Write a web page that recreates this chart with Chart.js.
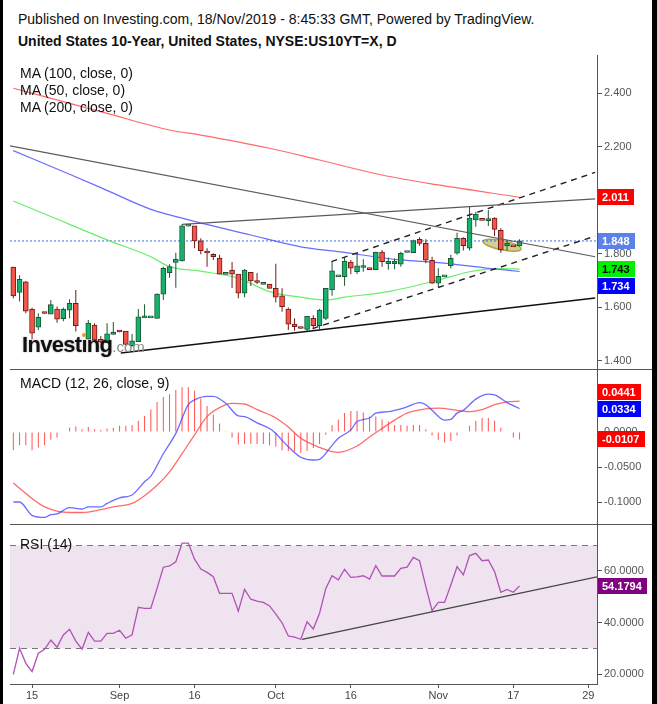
<!DOCTYPE html>
<html>
<head>
<meta charset="utf-8">
<title>United States 10-Year</title>
<script src="https://cdn.jsdelivr.net/npm/chart.js@4.4.1/dist/chart.umd.min.js"></script>
<style>
  html, body { margin: 0; padding: 0; background: #fff; }
  #page { position: relative; width: 657px; height: 704px; background: #fff; overflow: hidden;
    font-family: "Liberation Sans", Arial, sans-serif; color: #111; }
  .edge { position: absolute; top: 0; height: 704px; background: #000; }
  .txt { position: absolute; white-space: nowrap; font-size: 14px; line-height: 16px; }
  canvas { position: absolute; left: 10px; }
  .sep { position: absolute; left: 10px; width: 642px; height: 1px; background: #555; }
  #mark { position: absolute; left: 22px; top: 334px; white-space: nowrap; line-height: 22px; }
  #mark .big { font-size: 22px; font-weight: bold; letter-spacing: -0.7px; color: #111;
    text-shadow: 0 0 2px rgba(0,0,0,0.35); }
  #mark .small { font-size: 15px; color: #8a8a8a; }
  #mark .i { position: relative; }
  #mark .dot { position: absolute; left: 1px; top: 1px; width: 4px; height: 4px; border-radius: 2px; background: #f7941d; }
</style>
</head>
<body>
<div id="page">
  <div class="txt" style="left:18px;top:11px">Published on Investing.com, 18/Nov/2019 - 8:45:33 GMT, Powered by TradingView.</div>
  <div class="txt" style="left:18px;top:33px;font-weight:bold">United States 10-Year, United States, NYSE:US10YT=X, D</div>

  <canvas id="main" width="647" height="314" style="top:55px"></canvas>
  <canvas id="macd" width="647" height="155" style="top:369px"></canvas>
  <canvas id="rsi" width="647" height="180" style="top:524px"></canvas>
  <div class="sep" style="top:369px"></div>
  <div class="sep" style="top:524px"></div>

  <div class="txt" style="left:20px;top:65px">MA (100, close, 0)</div>
  <div class="txt" style="left:20px;top:82px">MA (50, close, 0)</div>
  <div class="txt" style="left:20px;top:99px">MA (200, close, 0)</div>
  <div class="txt" style="left:20px;top:375px">MACD (12, 26, close, 9)</div>
  <div class="txt" style="left:20px;top:536px">RSI (14)</div>

  <div id="mark"><span class="big">Invest<span class="i">ı<b class="dot"></b></span>ng</span><span class="small">.com</span></div>

  <div class="edge" style="left:0;width:3px"></div>
  <div class="edge" style="right:0;width:5px"></div>
</div>

<script>
// daily bars, Sunday sessions included; index 0 = 12 Aug 2019, index 81 = 18 Nov 2019
const OPEN = [1.750, 1.656, 1.695, 1.594, 1.526, 1.579, 1.575, 1.594, 1.558, 1.590,
  1.615, null, 1.481, 1.534, 1.481, 1.468, 1.499, 1.510, 1.512, 1.457,
  1.472, 1.561, 1.561, 1.559, 1.649, 1.730, 1.768, 1.773, 1.903, 1.904,
  1.848, 1.805, 1.798, 1.784, 1.723, 1.739, 1.724, 1.653, 1.731, 1.695,
  1.686, 1.687, 1.671, 1.643, 1.594, 1.538, 1.523, 1.518, 1.559, 1.532,
  1.559, 1.665, 1.714, 1.715, 1.769, 1.733, 1.749, 1.743, 1.741, 1.806,
  1.763, 1.763, 1.761, 1.805, 1.804, 1.854, 1.839, 1.776, 1.690, 1.714,
  1.756, 1.802, 1.858, 1.821, 1.926, 1.927, 1.924, 1.933, 1.888, 1.830,
  1.828, 1.829];
const HIGH = [1.752, 1.720, 1.698, 1.599, 1.578, 1.580, 1.628, 1.603, 1.600, 1.630,
  1.665, null, 1.553, 1.541, 1.493, 1.541, 1.545, 1.511, 1.512, 1.501,
  1.594, 1.612, 1.563, 1.653, 1.752, 1.761, 1.804, 1.910, 1.905, 1.904,
  1.858, 1.821, 1.802, 1.796, 1.725, 1.769, 1.724, 1.743, 1.731, 1.728,
  1.688, 1.687, 1.763, 1.671, 1.600, 1.559, 1.523, 1.567, 1.571, 1.595,
  1.671, 1.771, 1.716, 1.786, 1.777, 1.802, 1.780, 1.743, 1.808, 1.814,
  1.786, 1.782, 1.808, 1.807, 1.852, 1.862, 1.854, 1.789, 1.746, 1.716,
  1.796, 1.879, 1.862, 1.976, 1.957, 1.927, 1.963, 1.936, 1.895, 1.852,
  1.828, 1.854];
const LOW = [1.634, 1.622, 1.578, 1.481, 1.516, 1.575, 1.575, 1.543, 1.548, 1.559,
  1.510, null, 1.481, 1.476, 1.466, 1.466, 1.499, 1.507, 1.460, 1.453,
  1.472, 1.561, 1.561, 1.559, 1.628, 1.711, 1.673, 1.771, 1.902, 1.821,
  1.798, 1.752, 1.777, 1.724, 1.723, 1.672, 1.634, 1.638, 1.680, 1.687,
  1.686, 1.671, 1.618, 1.584, 1.516, 1.513, 1.521, 1.510, 1.518, 1.518,
  1.553, 1.643, 1.714, 1.681, 1.724, 1.725, 1.733, 1.741, 1.741, 1.752,
  1.740, 1.742, 1.752, 1.805, 1.804, 1.830, 1.765, 1.687, 1.674, 1.714,
  1.746, 1.796, 1.812, 1.812, 1.901, 1.925, 1.904, 1.866, 1.804, 1.812,
  1.826, 1.827];
const CLOSE = [1.643, 1.705, 1.586, 1.504, 1.563, 1.577, 1.610, 1.556, 1.593, 1.615,
  1.532, null, 1.541, 1.478, 1.470, 1.501, 1.501, 1.508, 1.462, 1.475,
  1.565, 1.562, 1.562, 1.650, 1.746, 1.752, 1.780, 1.904, 1.904, 1.848,
  1.812, 1.803, 1.789, 1.724, 1.724, 1.724, 1.653, 1.739, 1.699, 1.693,
  1.687, 1.671, 1.638, 1.603, 1.537, 1.528, 1.521, 1.567, 1.532, 1.590,
  1.671, 1.736, 1.715, 1.773, 1.746, 1.755, 1.756, 1.741, 1.806, 1.771,
  1.772, 1.772, 1.802, 1.806, 1.849, 1.839, 1.776, 1.690, 1.716, 1.715,
  1.783, 1.858, 1.830, 1.933, 1.947, 1.925, 1.927, 1.891, 1.814, 1.839,
  1.826, 1.848];

// moving averages, read at a few bars each
const MA200_IDX = [0, 15, 25, 30, 41, 49, 59, 68, 81];
const MA200_VAL = [2.418, 2.324, 2.262, 2.243, 2.194, 2.150, 2.094, 2.057, 2.011];
const MA100_IDX = [0, 9, 14, 22, 25, 38, 46, 52, 62, 68, 76, 81];
const MA100_VAL = [2.185, 2.097, 2.047, 1.966, 1.945, 1.870, 1.826, 1.808, 1.777, 1.767, 1.746, 1.734];
const MA50_IDX = [0, 6, 15, 22, 25, 30, 36, 41, 46, 50, 53, 60, 68, 73, 78, 81];
const MA50_VAL = [1.997, 1.939, 1.852, 1.789, 1.752, 1.735, 1.709, 1.659, 1.638, 1.628, 1.638, 1.659, 1.702, 1.733, 1.745, 1.743];

// hand-drawn lines: [bar index, yield]
const LINE_DOWN = [[-0.53, 2.203], [93.1, 1.789]];
const LINE_TOP = [[27, 1.910], [93.1, 2.005]];
const LINE_SUPPORT = [[17.2, 1.430], [93.1, 1.635]];
const CHANNEL_LOW = [[47.9, 1.521], [93.1, 1.866]];
const CHANNEL_HIGH = [[50.9, 1.771], [93.1, 2.104]];
const ELLIPSE_CENTER = [78.2, 1.832];
const ELLIPSE_HALF = [3.1, 0.0175];

const MACD_HIST = [-0.026, -0.019, -0.019, -0.026, -0.022, -0.019, -0.011, -0.008, 0, 0.006,
  0.008, 0.004, 0.007, 0.004, 0.003, 0.005, 0.006, 0.009, 0.009, 0.010,
  0.016, 0.023, 0.032, 0.043, 0.050, 0.054, 0.060, 0.064, 0.064, 0.059,
  0.048, 0.037, 0.025, 0.012, 0.001, -0.008, -0.018, -0.017, -0.017, -0.017,
  -0.017, -0.019, -0.021, -0.026, -0.027, -0.028, -0.030, -0.027, -0.023, -0.017,
  -0.004, 0.010, 0.018, 0.027, 0.030, 0.030, 0.028, 0.022, 0.022, 0.018,
  0.015, 0.010, 0.010, 0.009, 0.010, 0.010, 0.004, -0.005, -0.011, -0.015,
  -0.013, -0.005, 0, 0.009, 0.016, 0.020, 0.020, 0.016, 0.006, 0,
  -0.008, -0.0107];
const MACD_IDX = [0, 1, 3, 5, 6, 7, 9, 11, 12, 14, 15, 17, 19, 21, 22, 24, 26, 28, 29, 31,
  32, 34, 36, 37, 39, 41, 42, 43, 44, 46, 48, 49, 51, 52, 54, 55, 57, 58, 60, 62,
  63, 65, 66, 67, 69, 70, 71, 72, 74, 76, 77, 79, 81];
const MACD_VAL = [-0.100, -0.100, -0.119, -0.122, -0.118, -0.117, -0.108, -0.110, -0.107, -0.107,
  -0.102, -0.094, -0.090, -0.071, -0.063, -0.031, -0.002, 0.039, 0.046, 0.051,
  0.051, 0.041, 0.023, 0.022, 0.013, 0.005, -0.002, -0.012, -0.021, -0.036,
  -0.040, -0.039, -0.019, -0.009, 0.003, 0.015, 0.020, 0.027, 0.029, 0.033,
  0.036, 0.042, 0.039, 0.031, 0.017, 0.018, 0.027, 0.031, 0.047, 0.054,
  0.053, 0.042, 0.0334];
const SIGNAL_IDX = [0, 3, 5, 9, 11, 14, 16, 19, 21, 23, 25, 27, 29, 31, 34, 35, 37, 39, 42, 44,
  46, 49, 51, 52, 55, 57, 59, 61, 63, 66, 68, 71, 73, 75, 77, 79, 81];
const SIGNAL_VAL = [-0.073, -0.095, -0.107, -0.115, -0.115, -0.111, -0.107, -0.102, -0.091, -0.076,
  -0.057, -0.031, -0.004, 0.022, 0.039, 0.041, 0.040, 0.032, 0.020, 0.007,
  -0.009, -0.022, -0.028, -0.029, -0.020, -0.007, 0.005, 0.017, 0.027, 0.033,
  0.034, 0.031, 0.029, 0.032, 0.039, 0.043, 0.0441];

const RSI = [19.9, 30.0, 24.2, 21.0, 28.1, 29.6, 33.2, 30.4, 35.2, 37.4,
  32.8, 29.7, 36.2, 32.8, 32.8, 35.8, 35.8, 37.0, 33.9, 35.2,
  45.9, 45.5, 45.5, 53.2, 61.4, 61.9, 63.5, 70.7, 70.7, 64.5,
  60.7, 59.4, 57.7, 51.3, 51.3, 51.3, 44.4, 52.8, 49.0, 48.3,
  47.8, 46.4, 43.2, 39.9, 34.8, 34.3, 33.5, 40.3, 37.5, 43.6,
  53.2, 58.1, 56.5, 60.6, 57.5, 57.7, 58.1, 56.8, 62.0, 58.0,
  58.0, 58.0, 61.0, 61.4, 65.2, 63.9, 54.0, 44.6, 47.8, 47.8,
  54.5, 61.6, 58.4, 65.9, 66.8, 63.9, 64.2, 59.7, 51.7, 52.8,
  51.7, 54.1794];
const RSI_LINE = [[46.2, 33.5], [93.4, 57.7]];
const RSI_BANDS = [70, 30];

const X_TICK_IDX = [3, 17, 29, 42, 54, 68, 80, 92];
const X_TICK_TEXT = ["15", "Sep", "16", "Oct", "16", "Nov", "17", "29"];
const PRICE_TICKS = [1.4, 1.6, 1.8, 2.2, 2.4];
const MACD_TICKS = [-0.1, -0.05, 0];
const RSI_TICKS = [20, 40, 60];

const X_RANGE = [-0.53, 93.39];
const PRICE_RANGE = [1.370, 2.542];
const MACD_RANGE = [-0.1314, 0.09];
const RSI_RANGE = [16.19, 78.13];

const AXIS_W = 60;
const LABEL_GAP = 17;
const GREEN = "#14b36b";
const RED = "#f2564b";
const GREEN_EDGE = "#1c5534";
const RED_EDGE = "#6f1a16";

Chart.defaults.font.family = "'Liberation Sans', Arial, sans-serif";
Chart.defaults.elements.point.radius = 0;

const pts = (xs, ys) => xs.map((x, k) => ({ x, y: ys[k] }));
const seg = (pair) => pair.map(([x, y]) => ({ x, y }));
const last = (arr) => arr[arr.length - 1];

const sideLabels = {
  id: "sideLabels",
  afterDraw(chart, args, opts) {
    const items = opts.items || [];
    const scale = chart.scales.y;
    const ctx = chart.ctx;
    const placed = [];
    ctx.save();
    ctx.font = "bold 11px 'Liberation Sans', Arial, sans-serif";
    ctx.textBaseline = "middle";
    for (const item of items) {
      let y = scale.getPixelForValue(item.value);
      for (const p of placed) {
        if (Math.abs(y - p) < LABEL_GAP) {
          y = y < p ? p - LABEL_GAP : p + LABEL_GAP;
        }
      }
      placed.push(y);
      const yy = Math.round(y);
      const x = chart.chartArea.right + 1;
      const w = Math.ceil(ctx.measureText(item.text).width) + 9;
      ctx.fillStyle = item.bg;
      ctx.fillRect(x, yy - 8, w, 16);
      ctx.fillStyle = item.fg;
      ctx.fillText(item.text, x + 4, yy + 1);
    }
    ctx.restore();
  },
};

const ellipseMark = {
  id: "ellipseMark",
  beforeDatasetsDraw(chart) {
    const { ctx, scales: { x, y } } = chart;
    const cx = x.getPixelForValue(ELLIPSE_CENTER[0]);
    const cy = y.getPixelForValue(ELLIPSE_CENTER[1]);
    const rx = x.getPixelForValue(ELLIPSE_CENTER[0] + ELLIPSE_HALF[0]) - cx;
    const ry = cy - y.getPixelForValue(ELLIPSE_CENTER[1] + ELLIPSE_HALF[1]);
    ctx.save();
    ctx.beginPath();
    ctx.ellipse(cx, cy, rx, ry, 0.2, 0, Math.PI * 2);
    ctx.fillStyle = "rgba(180, 175, 80, 0.6)";
    ctx.strokeStyle = "rgba(160, 155, 50, 0.85)";
    ctx.lineWidth = 1.5;
    ctx.fill();
    ctx.stroke();
    ctx.restore();
  },
};

const rsiBand = {
  id: "rsiBand",
  beforeDatasetsDraw(chart) {
    const { ctx, chartArea: a, scales: { y } } = chart;
    const top = Math.round(y.getPixelForValue(RSI_BANDS[0])) + 0.5;
    const bot = Math.round(y.getPixelForValue(RSI_BANDS[1])) + 0.5;
    ctx.save();
    ctx.fillStyle = "rgba(135, 40, 135, 0.13)";
    ctx.fillRect(a.left, top, a.right - a.left, bot - top);
    ctx.strokeStyle = "#777";
    ctx.lineWidth = 1;
    ctx.setLineDash([6, 5]);
    for (const yy of [top, bot]) {
      ctx.beginPath();
      ctx.moveTo(a.left, yy);
      ctx.lineTo(a.right, yy);
      ctx.stroke();
    }
    ctx.restore();
  },
};

function xScale(show) {
  const scale = {
    type: "linear",
    min: X_RANGE[0],
    max: X_RANGE[1],
    offset: false,
    display: show,
    grid: { drawOnChartArea: false, tickLength: 4, color: "#555" },
    border: { color: "#555" },
  };
  if (show) {
    scale.afterBuildTicks = (s) => { s.ticks = X_TICK_IDX.map((v) => ({ value: v })); };
    scale.afterFit = (s) => { s.height = 20; s.paddingLeft = 0; s.paddingRight = 0; };
    scale.ticks = {
      autoSkip: false,
      maxRotation: 0,
      padding: 1,
      color: "#444",
      font: { size: 11 },
      callback: (v, i) => X_TICK_TEXT[i],
    };
  }
  return scale;
}

function yScale(range, ticks, digits) {
  return {
    position: "right",
    min: range[0],
    max: range[1],
    afterBuildTicks: (s) => { s.ticks = ticks.map((v) => ({ value: v })); },
    afterFit: (s) => { s.width = AXIS_W; s.paddingTop = 0; s.paddingBottom = 0; },
    ticks: {
      padding: 2,
      color: "#555",
      font: { size: 11 },
      callback: (v) => Number(v).toFixed(digits),
    },
    grid: { drawOnChartArea: false, tickLength: 5, color: "#555" },
    border: { color: "#555" },
  };
}

function baseOptions(range, ticks, digits, showX, labels) {
  return {
    responsive: false,
    animation: false,
    events: [],
    layout: { padding: 0 },
    plugins: {
      legend: { display: false },
      tooltip: { enabled: false },
      sideLabels: { items: labels },
    },
    scales: { x: xScale(showX), y: yScale(range, ticks, digits) },
  };
}

// ---- price panel ----
const bars = CLOSE.map((c, i) => i).filter((i) => CLOSE[i] != null);
const rising = (i) => CLOSE[i] >= OPEN[i];
const bodyData = bars.map((i) => ({ x: i, y: [OPEN[i], CLOSE[i]] }));
const wickData = bars.map((i) => ({ x: i, y: [LOW[i], HIGH[i]] }));
const bodyFill = bars.map((i) => (rising(i) ? GREEN : RED));
const bodyEdge = bars.map((i) => (rising(i) ? GREEN_EDGE : RED_EDGE));

function lineSet(data, color, width, extra) {
  return Object.assign({
    type: "line",
    data,
    borderColor: color,
    borderWidth: width,
    pointRadius: 0,
    fill: false,
    order: 0,
  }, extra || {});
}

new Chart(document.getElementById("main"), {
  type: "line",
  data: {
    datasets: [
      lineSet(seg(LINE_DOWN), "#5a5a5a", 1.2),
      lineSet(seg(LINE_TOP), "#5a5a5a", 1.2),
      lineSet(seg(LINE_SUPPORT), "#111", 1.5),
      lineSet(seg(CHANNEL_LOW), "#222", 1.4, { borderDash: [6, 5] }),
      lineSet(seg(CHANNEL_HIGH), "#222", 1.4, { borderDash: [6, 5] }),
      lineSet([{ x: X_RANGE[0], y: last(CLOSE) }, { x: X_RANGE[1], y: last(CLOSE) }], "#3a6de6", 1,
        { borderDash: [2, 2], order: 4 }),
      {
        type: "bar",
        data: bodyData,
        backgroundColor: bodyFill,
        borderColor: bodyEdge,
        borderWidth: 1,
        borderSkipped: false,
        barThickness: 5,
        minBarLength: 2,
        grouped: false,
        order: 1,
      },
      {
        type: "bar",
        data: wickData,
        backgroundColor: bodyEdge,
        borderWidth: 0,
        barThickness: 1,
        inflateAmount: 0,
        grouped: false,
        order: 2,
      },
      lineSet(pts(MA200_IDX, MA200_VAL), "rgba(255, 80, 80, 0.85)", 1.2, { cubicInterpolationMode: "monotone", order: 3 }),
      lineSet(pts(MA100_IDX, MA100_VAL), "rgba(80, 80, 255, 0.85)", 1.2, { cubicInterpolationMode: "monotone", order: 3 }),
      lineSet(pts(MA50_IDX, MA50_VAL), "rgba(90, 235, 90, 0.9)", 1.2, { cubicInterpolationMode: "monotone", order: 3 }),
    ],
  },
  options: baseOptions(PRICE_RANGE, PRICE_TICKS, 3, false, [
    { value: last(CLOSE), text: last(CLOSE).toFixed(3), bg: "#5b82e8", fg: "#fff" },
    { value: last(MA200_VAL), text: last(MA200_VAL).toFixed(3), bg: "#ff0000", fg: "#fff" },
    { value: last(MA50_VAL), text: last(MA50_VAL).toFixed(3), bg: "#00ee00", fg: "#000" },
    { value: last(MA100_VAL), text: last(MA100_VAL).toFixed(3), bg: "#0000ff", fg: "#fff" },
  ]),
  plugins: [sideLabels, ellipseMark],
});

// ---- MACD panel ----
new Chart(document.getElementById("macd"), {
  type: "line",
  data: {
    datasets: [
      lineSet(pts(MACD_IDX, MACD_VAL), "rgba(70, 70, 255, 0.8)", 1.3, { cubicInterpolationMode: "monotone", order: 0 }),
      lineSet(pts(SIGNAL_IDX, SIGNAL_VAL), "rgba(255, 70, 70, 0.8)", 1.3, { cubicInterpolationMode: "monotone", order: 1 }),
      {
        type: "bar",
        data: MACD_HIST.map((v, i) => ({ x: i, y: v })),
        backgroundColor: "rgba(255, 50, 50, 0.85)",
        borderWidth: 0,
        barThickness: 1,
        inflateAmount: 0,
        grouped: false,
        order: 2,
      },
    ],
  },
  options: baseOptions(MACD_RANGE, MACD_TICKS, 4, false, [
    { value: last(MACD_VAL), text: last(MACD_VAL).toFixed(4), bg: "#0000ff", fg: "#fff" },
    { value: last(SIGNAL_VAL), text: last(SIGNAL_VAL).toFixed(4), bg: "#ff0000", fg: "#fff" },
    { value: last(MACD_HIST), text: last(MACD_HIST).toFixed(4), bg: "#ff0000", fg: "#fff" },
  ]),
  plugins: [sideLabels],
});

// ---- RSI panel ----
new Chart(document.getElementById("rsi"), {
  type: "line",
  data: {
    datasets: [
      lineSet(seg(RSI_LINE), "#444", 1.3, { order: 0 }),
      lineSet(RSI.map((v, i) => ({ x: i, y: v })), "#b052b6", 1.3, { order: 1 }),
    ],
  },
  options: baseOptions(RSI_RANGE, RSI_TICKS, 4, true, [
    { value: last(RSI), text: last(RSI).toFixed(4), bg: "#800080", fg: "#fff" },
  ]),
  plugins: [rsiBand, sideLabels],
});
</script>
</body>
</html>
